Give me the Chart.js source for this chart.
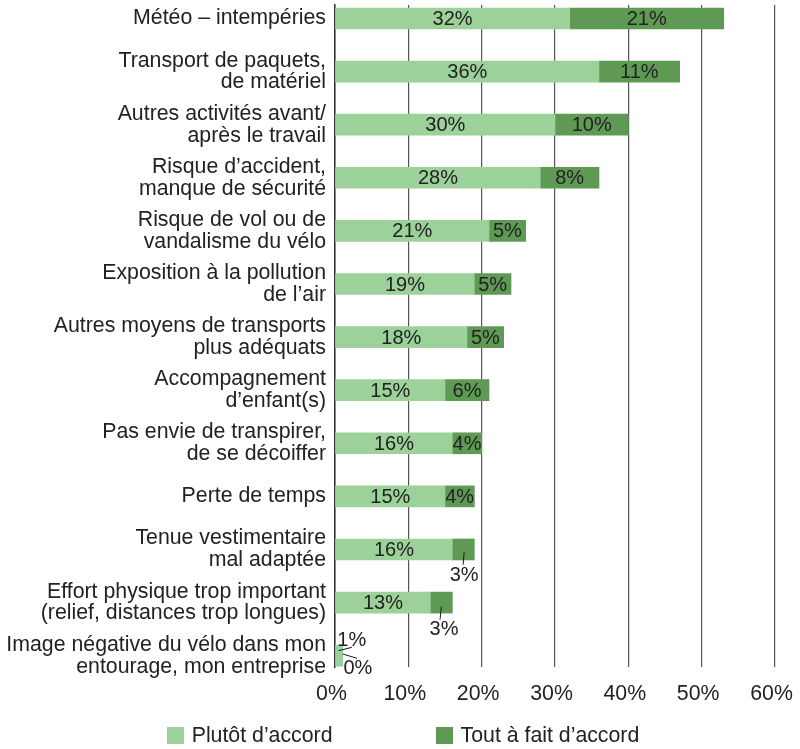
<!DOCTYPE html>
<html lang="fr">
<head>
<meta charset="utf-8">
<title>Freins à l'usage du vélo</title>
<script src="https://cdn.jsdelivr.net/npm/chart.js@4/dist/chart.umd.min.js"></script>
<style>
  html, body { margin: 0; padding: 0; background: #fff; }
  #wrap { position: relative; width: 800px; height: 749px; }
  #chart { position: absolute; left: 0; top: 0; }
  #legend {
    position: absolute; left: 3px; top: 723px; width: 800px;
    display: flex; justify-content: center; gap: 103px;
    font-family: "Liberation Sans", Arial, sans-serif; font-size: 21.3px; color: #222;
  }
  .item { display: flex; align-items: center; }
  .sw { width: 17px; height: 17px; margin-right: 8px; }
</style>
</head>
<body>
<div id="wrap">
  <canvas id="chart" width="800" height="749"></canvas>
  <div id="legend"></div>
</div>
<script>
// Reasons for not cycling to work, share of respondents (%)
const categories = [
  ['Météo – intempéries'],
  ['Transport de paquets,', 'de matériel'],
  ['Autres activités avant/', 'après le travail'],
  ['Risque d’accident,', 'manque de sécurité'],
  ['Risque de vol ou de', 'vandalisme du vélo'],
  ['Exposition à la pollution', 'de l’air'],
  ['Autres moyens de transports', 'plus adéquats'],
  ['Accompagnement', 'd’enfant(s)'],
  ['Pas envie de transpirer,', 'de se décoiffer'],
  ['Perte de temps'],
  ['Tenue vestimentaire', 'mal adaptée'],
  ['Effort physique trop important', '(relief, distances trop longues)'],
  ['Image négative du vélo dans mon', 'entourage, mon entreprise']
];
const seriesNames = ['Plutôt d’accord', 'Tout à fait d’accord'];
const plutotDaccord = [32, 36, 30, 28, 21, 19, 18, 15, 16, 15, 16, 13, 1];
const toutAFaitDaccord = [21, 11, 10, 8, 5, 5, 5, 6, 4, 4, 3, 3, 0];
const xTicks = [0, 10, 20, 30, 40, 50, 60];

const COLORS = ['#9cd199', '#5f9a55'];
const FONT = '"Liberation Sans", Arial, sans-serif';
const TEXT = '#222222';

// Labels that sit outside their bar, with a short leader line.
// key: datasetIndex-categoryIndex; offsets from the segment centre
const callouts = {
  '1-10': { label: [0.8, 26.3], from: [0.8, 3], to: [-0.2, 15.3] },
  '1-11': { label: [2.7, 27], from: [0, 4], to: [-1.3, 17] },
  '0-12': { label: [12.8, -15.7], from: [-0.4, -5], to: [13, -8.4] },
  '1-12': { label: [15.5, 12.3], from: [0.3, -1.7], to: [14.7, 2.6] }
};

const datasets = [plutotDaccord, toutAFaitDaccord].map((vals, d) => ({
  label: seriesNames[d],
  data: vals.map((v, i) => ({ x: v, y: i })),
  backgroundColor: COLORS[d],
  borderWidth: 0,
  barThickness: 21
}));

const valueLabels = {
  id: 'valueLabels',
  afterDatasetsDraw(chart) {
    const ctx = chart.ctx;
    ctx.save();
    ctx.font = '20px ' + FONT;
    ctx.fillStyle = TEXT;
    ctx.strokeStyle = '#1a1a1a';
    ctx.lineWidth = 1;
    ctx.textAlign = 'center';
    ctx.textBaseline = 'middle';
    chart.data.datasets.forEach((ds, d) => {
      const meta = chart.getDatasetMeta(d);
      meta.data.forEach((bar, i) => {
        const cx = (bar.x + bar.base) / 2;
        const cy = bar.y;
        const text = ds.data[i].x + '%';
        const c = callouts[d + '-' + i];
        if (c) {
          ctx.beginPath();
          ctx.moveTo(cx + c.from[0], cy + c.from[1]);
          ctx.lineTo(cx + c.to[0], cy + c.to[1]);
          ctx.stroke();
          ctx.fillText(text, cx + c.label[0], cy + c.label[1]);
        } else {
          ctx.fillText(text, cx, cy + 1);
        }
      });
    });
    ctx.restore();
  }
};

new Chart(document.getElementById('chart'), {
  type: 'bar',
  data: { datasets },
  options: {
    responsive: false,
    animation: false,
    indexAxis: 'y',
    layout: { padding: { top: 5, right: 25, bottom: 42, left: 0 } },
    plugins: { legend: { display: false }, tooltip: { enabled: false } },
    scales: {
      x: {
        type: 'linear',
        stacked: true,
        min: 0,
        max: 60,
        afterBuildTicks: s => { s.ticks = xTicks.map(v => ({ value: v })); },
        ticks: {
          padding: 14,
          labelOffset: -3.5,
          color: TEXT,
          font: { family: FONT, size: 21.3 },
          callback: v => v + '%'
        },
        grid: { color: '#555555', lineWidth: 1.2, drawTicks: false },
        border: { display: false },
        afterFit: s => { s.height = 40; s.paddingLeft = 0; s.paddingRight = 0; }
      },
      y: {
        type: 'linear',
        stacked: true,
        reverse: true,
        offset: false,
        min: -0.254,
        max: 12.213,
        afterBuildTicks: s => { s.ticks = categories.map((_, i) => ({ value: i })); },
        ticks: {
          padding: 9,
          color: TEXT,
          font: { family: FONT, size: 21.3, lineHeight: 1.03 },
          callback: v => categories[v]
        },
        grid: { display: false, drawTicks: false },
        border: { display: true, color: '#333333', width: 1.5 },
        afterFit: s => { s.width = 335; s.paddingTop = 0; s.paddingBottom = 0; }
      }
    }
  },
  plugins: [valueLabels]
});

// Legend
const legend = document.getElementById('legend');
seriesNames.forEach((name, d) => {
  const item = document.createElement('div');
  item.className = 'item';
  const sw = document.createElement('span');
  sw.className = 'sw';
  sw.style.background = COLORS[d];
  const txt = document.createElement('span');
  txt.textContent = name;
  item.appendChild(sw);
  item.appendChild(txt);
  legend.appendChild(item);
});
</script>
</body>
</html>
